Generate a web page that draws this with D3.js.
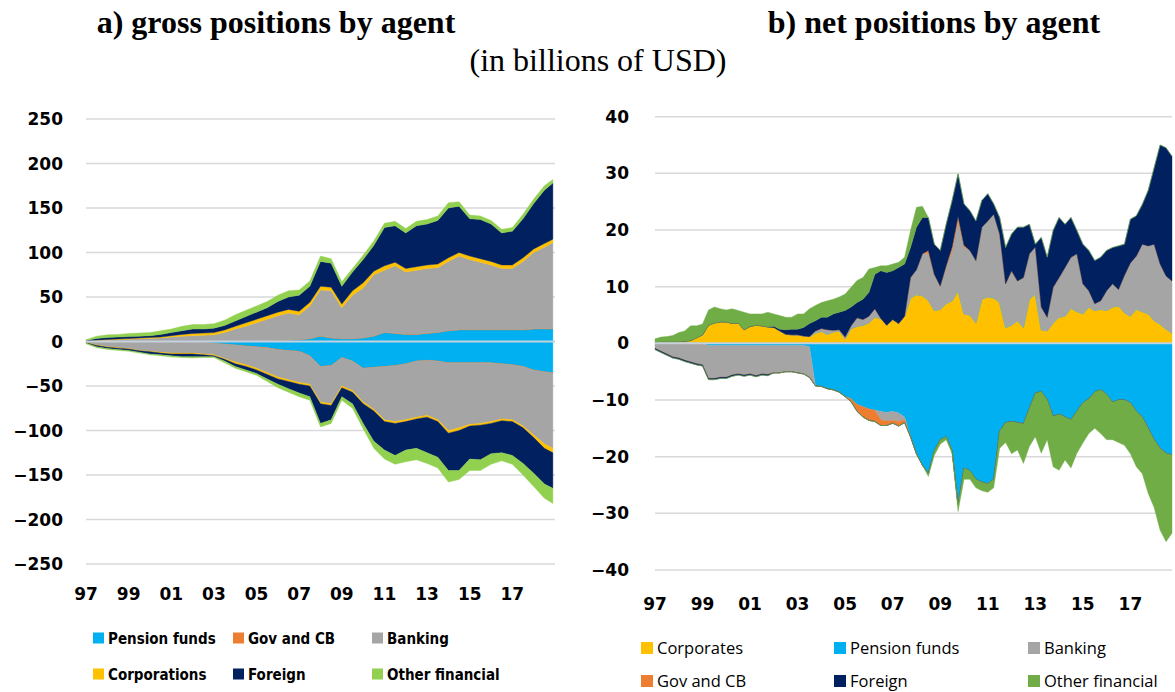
<!DOCTYPE html>
<html>
<head>
<meta charset="utf-8">
<script src="https://cdn.jsdelivr.net/npm/d3@7"></script>
<style>
body { margin: 0; background: #fff; }
svg { display: block; }
.tick-label { font-family: "DejaVu Sans", sans-serif; font-weight: bold; font-size: 17px; fill: #000; }
.title { font-family: "Liberation Serif", "Times New Roman", serif; font-size: 32px; fill: #000; }
</style>
</head>
<body>
<div id="chart"></div>
<script>
// ---- panel a) gross positions, semiannual readings ----
var datesA = [1997, 1997.5, 1998, 1998.5, 1999, 1999.5, 2000, 2000.5, 2001, 2001.5, 2002, 2002.5, 2003, 2003.5,
    2004, 2004.5, 2005, 2005.5, 2006, 2006.5, 2007, 2007.5, 2008, 2008.5, 2009, 2009.5, 2010, 2010.5, 2011, 2011.5,
    2012, 2012.5, 2013, 2013.5, 2014, 2014.5, 2015, 2015.5, 2016, 2016.5, 2017, 2017.5, 2018, 2018.5, 2018.9];

// long (positive) positions
var pensionLong = [0, 0, 0, 0, 0, 0, 0, 0, 0, 0, 0, 0, 0, 0, 0, 0.3, 0.5, 0.8, 1, 1.5, 2, 3, 6, 4, 3, 3, 4, 6, 10, 9,
    8, 8, 9, 10, 12, 13, 13, 13, 13, 13, 13, 13, 14, 14, 14];
var govLong = [0, 0, 0, 0, 0, 0, 0, 0, 0, 0, 0, 0, 0, 0, 0, 0, 0, 0, 0, 0.2, 0.3, 0.3, 0.5, 0.5, 0.3, 0.3, 0.3, 0.5, 0.5, 0.5,
    0.5, 0.5, 0.5, 0.5, 0.5, 0.5, 0.5, 0.5, 0.5, 0.5, 0.5, 0.5, 0.5, 0.5, 0.5];
var bankingLong = [0.3, 1, 1.5, 2, 2.5, 3, 3.5, 4, 5, 6, 6.5, 7, 7.5, 10, 14, 16.7, 20.5, 24.2, 28, 30.3, 27.7, 36.7,
    51.5, 52.5, 34.7, 48.7, 55.7, 68.5, 69.5, 75.5, 69.5, 71.5, 72.5, 72.5, 77.5, 82.5, 78.5, 75.5, 72.5, 68.5, 68.5,
    76.5, 85.5, 91.5, 96.5];
var corpLong = [0.3, 0.5, 0.7, 0.8, 0.8, 1, 1, 1, 1.5, 2, 2.5, 2.5, 2.5, 3, 3, 4, 4, 4, 4, 4, 4, 4, 4, 4, 4, 5, 6, 4, 5, 4,
    4, 4, 4, 4, 4, 4, 4, 4, 4, 4, 4, 4, 4, 4, 4];
var foreignLong = [0.6, 2, 2.3, 2.2, 2.2, 2, 2, 3, 3.5, 4, 5, 4.5, 5, 5, 6, 7, 8, 9, 12, 14, 18, 18, 28, 27, 20, 21, 26,
    29, 43, 41, 40, 46, 46, 49, 56, 52, 42, 44, 42, 36, 38, 44, 51, 60, 63];
var otherLong = [0.8, 2.5, 3, 3, 3.5, 3.5, 3.5, 4, 4, 5, 5, 5, 5, 6, 7, 7, 7, 7, 7, 7, 6, 6, 6, 5, 5, 4, 5, 5, 5, 5,
    5, 5, 5, 5, 6, 5, 4, 4, 4, 4, 4, 5, 5, 5, 4];

// short (negative) positions
var pensionShort = [0, 0, 0, 0, 0, 0, 0, 0, 0, 0, -0.5, -1, -2, -3, -4, -5, -6, -7, -9, -10, -11, -16, -28, -27, -18,
    -22, -30, -29, -28, -27, -25, -22, -21, -22, -24, -24, -24, -24, -24, -25, -26, -28, -32, -34, -35];
var govShort = [0, 0, 0, 0, 0, 0, 0, 0, 0, 0, 0, 0, 0, 0, 0, -0.3, -0.5, -0.5, -0.5, -0.5, -0.5, -0.5, -0.3, -0.3, -0.3,
    -0.3, -0.3, -0.3, -0.3, -0.3, -0.3, -0.3, -0.3, -0.3, -0.3, -0.3, -0.3, -0.3, -0.3, -0.3, -0.3, -0.3, -0.3, -0.3, -0.3];
var bankingShort = [-1, -4, -6, -7, -8, -10, -11, -12, -13, -13, -12.5, -13, -13, -16, -19, -20.7, -23.5, -27.5, -30.5,
    -32.5, -34.5, -31.5, -39.7, -42.7, -31.7, -32.7, -37.7, -46.7, -59.7, -62.7, -62.7, -62.7, -61.7, -65.7, -75.7,
    -72.7, -68.7, -67.7, -65.7, -61.7, -61.7, -66.7, -72.7, -80.7, -84.7];
var corpShort = [-0.3, -0.5, -0.5, -0.5, -0.5, -0.5, -0.5, -1, -1, -1, -1, -1, -1, -1, -2, -2, -2, -2, -2, -2, -2, -2,
    -2, -2, -2, -2, -2, -2, -2, -2, -2, -2, -2, -2, -3, -3, -2, -2, -2, -2, -2, -2, -3, -5, -5];
var foreignShort = [-0.5, -1.5, -1.5, -1.5, -1.5, -1.5, -2.5, -2, -2, -3, -3, -2, -1, -2, -3, -4, -4, -5, -6, -8, -10,
    -12, -22, -16, -10, -13, -22, -34, -32, -36, -32, -33, -40, -40, -42, -45, -37, -39, -34, -36, -38, -40, -40, -40, -40];
var otherShort = [-0.7, -1, -1, -1, -1, -1, -1, -1, -1.5, -1, -1.5, -1, -1, -2, -2, -2, -2, -3, -4, -4, -4, -4, -4, -4,
    -4, -5, -6, -8, -10, -10, -13, -13, -12, -12, -13, -10, -13, -12, -12, -9, -10, -13, -15, -16, -17];

// ---- panel b) net positions, quarterly readings (one line per year) ----
var datesB = d3.range(1997, 2018.76, 0.25);
var corporatesNet = [
    0.2, 0.3, 0.3, 0.3,   // 1997
    0.3, 0.4, 0.5, 1.0,   // 1998
    1.5, 3.2, 3.6, 3.8,   // 1999
    3.8, 3.5, 3.6, 2.4,   // 2000
    3.0, 3.2, 3.1, 2.9,   // 2001
    2.8, 2.2, 1.6, 1.5,   // 2002
    1.5, 1.3, 1.2, 1.8,   // 2003
    2.1, 1.6, 2.0, 2.2,   // 2004
    0.8, 2.6, 3.0, 3.2,   // 2005
    3.6, 4.6, 4.4, 3.2,   // 2006
    4.2, 3.5, 4.8, 8.0,   // 2007
    8.6, 8.4, 7.6, 5.8,   // 2008
    6.0, 7.0, 7.5, 9.3,   // 2009
    5.2, 5.0, 3.6, 7.8,   // 2010
    8.2, 8.0, 7.2, 2.8,   // 2011
    3.2, 4.0, 2.8, 7.8,   // 2012
    8.7, 2.4, 2.2, 3.6,   // 2013
    4.6, 4.8, 6.2, 5.6,   // 2014
    5.2, 6.4, 5.8, 6.0,   // 2015
    5.8, 6.4, 6.6, 5.4,   // 2016
    4.8, 6.0, 5.6, 5.2,   // 2017
    4.0, 3.4, 2.5, 1.8];  // 2018
var pensionNet = [
    0, 0, 0, 0,
    0, 0, 0, 0,
    0, -0.4, -0.4, -0.4,
    -0.4, -0.4, -0.4, -0.4,
    -0.4, -0.4, -0.4, -0.4,
    -0.4, -0.4, -0.4, -0.4,
    -0.4, -0.4, -0.6, -7.5,
    -7.6, -8.0, -8.2, -8.6,
    -9.4, -9.8, -10.8, -11.2,
    -11.6, -11.8, -12.0, -12.2,
    -12.0, -12.3, -13.0, -16.5,
    -19.5, -21.5, -23.0, -19.0,
    -17.0, -16.5, -19.0, -28.5,
    -22.0, -22.5, -24.0, -24.5,
    -24.8, -24.0, -15.5, -14.0,
    -13.8, -14.0, -14.2, -11.5,
    -8.8, -8.5, -10.0, -12.9,
    -12.5, -13.0, -13.5, -12.0,
    -10.5, -9.8, -8.6, -8.2,
    -9.0, -10.4, -10.0, -10.0,
    -10.5, -12.0, -13.0, -15.0,
    -17.0, -18.5, -19.4, -19.7];
var bankingNet = [
    -0.9, -1.4, -1.9, -2.4,
    -2.6, -3.0, -3.3, -3.6,
    -3.8, -5.8, -5.8, -5.6,
    -5.6, -5.2, -5.0, -5.2,
    -5.0, -5.3, -5.0, -5.1,
    -4.8, -4.8, -4.6, -4.6,
    -4.8, -5.0, -5.4, 0.4,
    0.5, 0.8, 0.3, 0.2,
    0.3, 0.5, 1.5, 1.0,
    1.2, 1.5, -1.5, -1.5,
    -1.6, -1.5, -0.5, 3.6,
    4.4, 7.4, 8.3, 6.4,
    4.1, 6.4, 8.9, 12.3,
    11.8, 11.4, 11.0, 12.7,
    13.4, 14.8, 12.1, 7.7,
    9.6, 7.0, 8.8, 8.0,
    8.3, 4.0, 2.4, 6.3,
    7.0, 8.6, 9.0, 10.2,
    5.3, 2.9, 1.2, 1.5,
    3.5, 4.1, 2.9, 6.6,
    9.4, 9.4, 11.9, 12.0,
    13.5, 10.6, 9.4, 9.2];
var govNet = [
    0, 0, 0, 0,
    0, 0, 0, 0,
    0, 0, 0, 0,
    0, 0, 0, 0,
    0, 0, 0, 0,
    0, 0, 0, 0,
    0, 0, 0, 0,
    0, 0, 0, 0,
    0, -0.5, -1.2, -1.8,
    -2.0, -2.0, -1.0, -0.8,
    -0.5, -0.8, -0.5, 0,
    0, 0, 0.5, 0,
    0, 0.3, 0.6, 0.8,
    0.3, 0, 0, 0,
    0, 0, 0, 0,
    0, 0, 0, 0,
    0, 0, 0, 0,
    0, 0, 0, 0,
    0, 0, 0, 0,
    0, 0, 0, 0,
    0, 0, 0, 0,
    0, 0, 0, 0];
var foreignNet = [
    -0.2, -0.2, -0.2, -0.2,
    -0.2, -0.2, -0.2, -0.2,
    -0.2, -0.2, -0.2, -0.2,
    -0.2, -0.2, -0.2, -0.2,
    -0.2, -0.2, -0.2, -0.2,
    0.2, 0.3, 0.8, 1.0,
    1.0, 1.5, 2.3, 1.8,
    2.0, 2.2, 2.9, 3.1,
    4.7, 3.3, 2.7, 3.6,
    4.2, 6.1, 8.4, 9.3,
    8.6, 9.9, 9.2, 5.3,
    7.5, 6.4, 5.8, 5.3,
    6.3, 7.3, 8.2, 7.5,
    7.3, 7.0, 7.0, 4.7,
    4.8, 1.8, 2.9, 6.4,
    6.5, 9.5, 8.9, 5.2,
    0.5, 12.3, 10.6, 10.0,
    10.6, 7.6, 7.0, 4.1,
    7.0, 7.1, 7.6, 7.7,
    7.1, 6.4, 7.7, 5.5,
    7.7, 7.1, 7.0, 9.8,
    13.5, 21.0, 22.6, 22.0];
var otherNet = [
    0.6, 0.8, 0.9, 1.1,
    1.6, 1.8, 2.6, 2.1,
    1.9, 2.7, 2.8, 2.3,
    2.1, 2.6, 2.2, 3.1,
    2.2, 2.0, 2.1, 2.6,
    2.2, 2.4, 2.2, 2.1,
    2.7, 2.4, 2.6, 2.7,
    2.6, 2.9, 2.6, 2.7,
    2.9, 3.5, 3.9, 3.8,
    4.1, 1.2, 0.9, 1.2,
    1.2, 0.9, 1.2, 3.0,
    3.5, 2.0, -0.5, -0.8,
    -0.8, -0.5, -0.5, -1.2,
    -2.0, -1.5, -1.5, -1.5,
    -1.5, -1.5, -3.0, -3.5,
    -5.7, -4.8, -7.0, -6.7,
    -7.7, -10.9, -7.0, -8.9,
    -9.9, -7.6, -8.5, -7.4,
    -7.1, -6.1, -6.4, -7.7,
    -8.0, -6.6, -7.5, -8.0,
    -9.0, -9.8, -10.0, -11.5,
    -12.0, -14.5, -15.6, -13.8];

// ---- axes / legend text ----
var yTicksA = [-250, -200, -150, -100, -50, 0, 50, 100, 150, 200, 250];
var yTicksB = [-40, -30, -20, -10, 0, 10, 20, 30, 40];
var xTickYears = [1997, 1999, 2001, 2003, 2005, 2007, 2009, 2011, 2013, 2015, 2017];

var keysA = ["Pension funds", "Gov and CB", "Banking", "Corporations", "Foreign", "Other financial"];
var colorsA = ["#00b0f0", "#ed7d31", "#a5a5a5", "#ffc000", "#002060", "#92d050"];
var keysB = ["Corporates", "Pension funds", "Banking", "Gov and CB", "Foreign", "Other financial"];
var colorsB = ["#ffc000", "#00b0f0", "#a5a5a5", "#ed7d31", "#002060", "#70ad47"];

var svg = d3.select("#chart").append("svg").attr("width", 1175).attr("height", 692);

// titles
svg.append("text").attr("class", "title").attr("x", 276).attr("y", 33)
    .attr("text-anchor", "middle").style("font-weight", "bold").text("a) gross positions by agent");
svg.append("text").attr("class", "title").attr("x", 934).attr("y", 33)
    .attr("text-anchor", "middle").style("font-weight", "bold").text("b) net positions by agent");
svg.append("text").attr("class", "title").attr("x", 598).attr("y", 71)
    .attr("text-anchor", "middle").text("(in billions of USD)");

// positive parts and negative parts are stacked separately (sign > 0 or < 0)
function stackRows(dates, keys, arrays, sign) {
    var rows = dates.map(function (d, i) {
        var r = { date: d };
        keys.forEach(function (k, j) {
            var v = arrays[j][i];
            if (v == null) v = 0;
            r[k] = sign > 0 ? Math.max(v, 0) : Math.min(v, 0);
        });
        return r;
    });
    return d3.stack().keys(keys)(rows);
}

function drawPanel(cfg) {
    var g = svg.append("g");
    var x = d3.scaleLinear().domain(cfg.xDomain).range(cfg.xRange);
    var y = d3.scaleLinear().domain(cfg.yDomain).range(cfg.yRange);

    // gridlines
    g.selectAll("line.grid").data(cfg.yTicks.filter(function (t) { return t !== 0; }))
        .enter().append("line")
        .attr("x1", cfg.xRange[0]).attr("x2", cfg.gridEnd)
        .attr("y1", function (d) { return y(d); }).attr("y2", function (d) { return y(d); })
        .attr("stroke", "#d9d9d9").attr("stroke-width", 1.5);

    var area = d3.area()
        .x(function (d) { return x(d.data.date); })
        .y0(function (d) { return y(d[0]); })
        .y1(function (d) { return y(d[1]); });

    [cfg.posStack, cfg.negStack].forEach(function (stack) {
        g.append("g").selectAll("path").data(stack).enter().append("path")
            .attr("d", area)
            .attr("fill", function (d, i) { return cfg.colors[i]; })
            .attr("stroke", function (d, i) { return cfg.colors[i]; })
            .attr("stroke-width", 0.4);
    });

    // zero line
    g.append("line").attr("x1", cfg.xRange[0]).attr("x2", cfg.gridEnd)
        .attr("y1", y(0)).attr("y2", y(0))
        .attr("stroke", "#c5d2de").attr("stroke-width", 2);

    // y labels
    g.selectAll("text.ylab").data(cfg.yTicks).enter().append("text")
        .attr("class", "tick-label")
        .attr("x", cfg.yLabelX).attr("y", function (d) { return y(d) + 6; })
        .attr("text-anchor", "end")
        .text(function (d) { return d3.format("d")(d); });

    // x labels
    g.selectAll("text.xlab").data(xTickYears).enter().append("text")
        .attr("class", "tick-label")
        .attr("x", function (d) { return x(d); }).attr("y", cfg.xLabelY)
        .attr("text-anchor", "middle")
        .text(function (d) { return String(d).slice(2); });

    // legend
    var lg = g.append("g");
    cfg.keys.forEach(function (k, i) {
        var col = i % 3, row = Math.floor(i / 3);
        var lx = cfg.legendX[col], ly = cfg.legendY[row];
        lg.append("rect").attr("x", lx).attr("y", ly - cfg.sw / 2).attr("width", cfg.sw).attr("height", cfg.sw)
            .attr("fill", cfg.colors[i]);
        lg.append("text").attr("x", lx + cfg.sw + 4).attr("y", ly + 5.5)
            .style("font-family", cfg.legendFont).style("font-weight", cfg.legendWeight)
            .style("font-size", cfg.legendSize + "px")
            .text(k);
    });
}

drawPanel({
    xDomain: [1997, 2019], xRange: [86, 555], gridEnd: 555,
    yDomain: [-250, 250], yRange: [564, 119], yTicks: yTicksA,
    posStack: stackRows(datesA, keysA, [pensionLong, govLong, bankingLong, corpLong, foreignLong, otherLong], 1),
    negStack: stackRows(datesA, keysA, [pensionShort, govShort, bankingShort, corpShort, foreignShort, otherShort], -1),
    colors: colorsA, keys: keysA,
    yLabelX: 63, xLabelY: 600,
    legendX: [93, 233, 372], legendY: [638, 674], sw: 11,
    legendFont: "'DejaVu Sans Condensed', 'Liberation Sans Narrow', sans-serif", legendWeight: "bold", legendSize: 15
});

var netArrays = [corporatesNet, pensionNet, bankingNet, govNet, foreignNet, otherNet];
drawPanel({
    xDomain: [1997, 2018.75], xRange: [655, 1172], gridEnd: 1172,
    yDomain: [-40, 40], yRange: [570, 116.7], yTicks: yTicksB,
    posStack: stackRows(datesB, keysB, netArrays, 1),
    negStack: stackRows(datesB, keysB, netArrays, -1),
    colors: colorsB, keys: keysB,
    yLabelX: 629, xLabelY: 610,
    legendX: [641, 834, 1028], legendY: [648, 681], sw: 12,
    legendFont: "'Open Sans', sans-serif", legendWeight: "normal", legendSize: 16.5
});
</script>
</body>
</html>
